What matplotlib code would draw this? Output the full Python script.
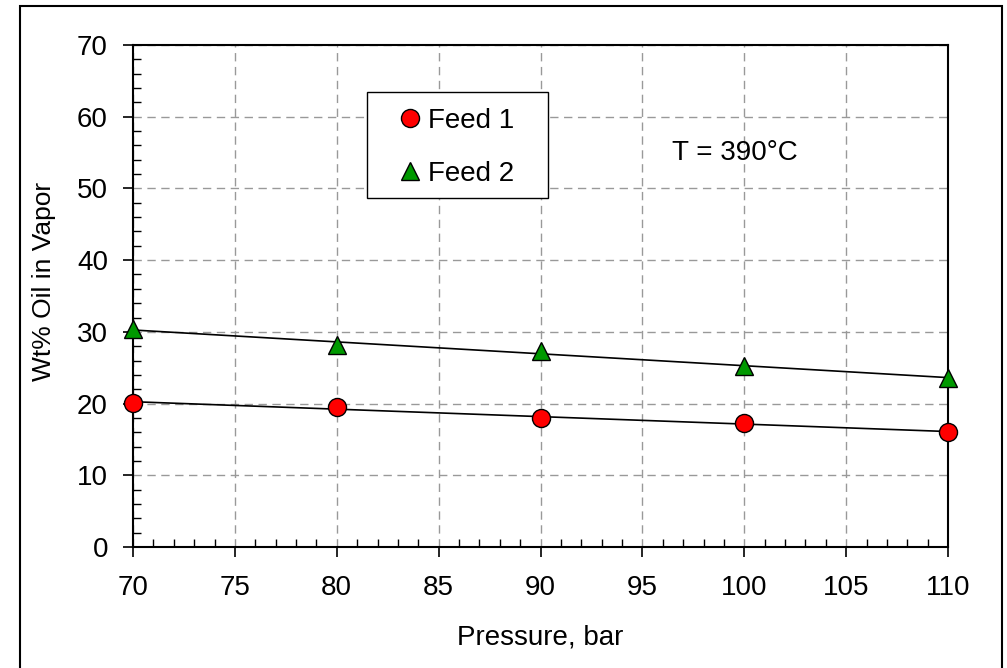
import numpy as np
import matplotlib.pyplot as plt
from matplotlib.patches import Rectangle
from matplotlib.ticker import MultipleLocator

plt.rcParams['font.family'] = ['Liberation Sans', 'DejaVu Sans']

pressure = [70, 80, 90, 100, 110]
feed1 = [20.1, 19.5, 18.0, 17.3, 16.0]
feed2 = [30.4, 28.2, 27.3, 25.2, 23.6]

W, H = 1007, 668
fig = plt.figure(figsize=(W / 100, H / 100), dpi=100)
ax = fig.add_axes([133 / W, 1 - 547 / H, 815 / W, 502 / H])


def px(x, y):
    # pixel position (top-left origin) -> figure fraction
    return x / W, 1 - y / H


# outer frame around the whole chart
fig.patches.append(Rectangle((20 / W, -0.05), 982 / W, 1.05 - 6 / H,
                             transform=fig.transFigure, fill=False,
                             edgecolor='black', linewidth=1.5))

# linear trend lines
xs = np.array([70, 110])
for y in (feed1, feed2):
    k, b = np.polyfit(pressure, y, 1)
    ax.plot(xs, k * xs + b, color='black', lw=1.2, zorder=3)

ax.plot(pressure, feed1, 'o', ms=13, mfc='red', mec='black', mew=1,
        label='Feed 1', zorder=4, clip_on=False)
ax.plot(pressure, feed2, '^', ms=13, mfc='#009900', mec='black', mew=1,
        label='Feed 2', zorder=4, clip_on=False)

ax.set_xlim(70, 110)
ax.set_ylim(0, 70)
ax.xaxis.set_major_locator(MultipleLocator(5))
ax.xaxis.set_minor_locator(MultipleLocator(1))
ax.yaxis.set_major_locator(MultipleLocator(10))
ax.yaxis.set_minor_locator(MultipleLocator(2))
ax.tick_params(which='major', direction='out', length=7, width=1.2,
               labelsize=20, pad=11)
ax.tick_params(which='minor', direction='in', length=6, width=1)
ax.tick_params(axis='x', which='major', pad=13)
ax.grid(True, which='major', color='#999999', linestyle=(0, (6, 4)), lw=1)
for s in ax.spines.values():
    s.set_linewidth(1.5)

ax.set_xlabel('Pressure, bar', fontsize=20, labelpad=17)
ax.set_ylabel('Wt% Oil in Vapor', fontsize=19)
ax.yaxis.set_label_coords(-0.0945, 0.53)

fig.text(*px(672, 153), 'T = 390°C', fontsize=20, va='center', ha='left')

# legend box
fig.patches.append(Rectangle(px(367, 198), 181 / W, 106 / H,
                             transform=fig.transFigure, facecolor='white',
                             edgecolor='black', linewidth=1, zorder=5))
leg = fig.legend(loc='upper left', bbox_to_anchor=px(396, 108),
                 fontsize=20, frameon=False, handletextpad=0.15,
                 borderpad=0, labelspacing=0.96, handlelength=1.0,
                 borderaxespad=0)
leg.set_zorder(6)

fig.savefig('out.png', dpi=100)
